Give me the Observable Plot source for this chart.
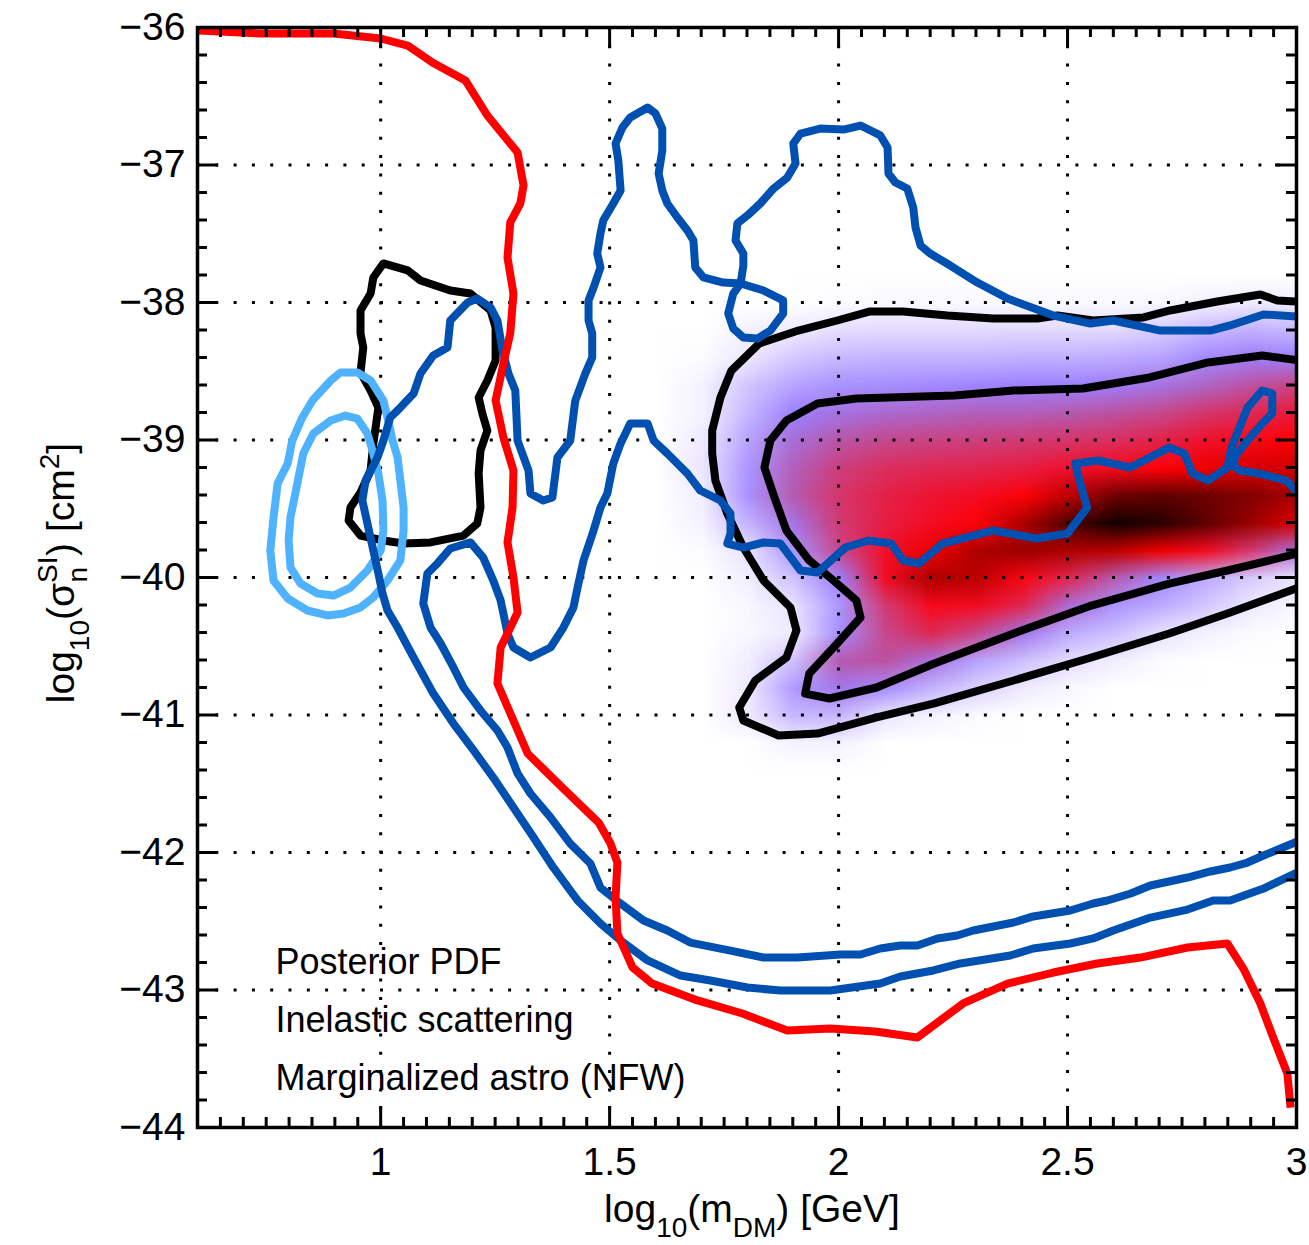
<!DOCTYPE html>
<html>
<head>
<meta charset="utf-8">
<script src="https://cdn.jsdelivr.net/npm/d3@7"></script>
<script src="https://cdn.jsdelivr.net/npm/@observablehq/plot@0.6"></script>
<style>
  body { margin: 0; background: #ffffff; }
  #chart svg { display: block; }
</style>
</head>
<body>
<div id="chart"></div>
<script>
// ---- Axis ticks ----
const xMajor = [1, 1.5, 2, 2.5, 3];
const yMajor = [-44, -43, -42, -41, -40, -39, -38, -37, -36];
const xGridLines = [1, 1.5, 2, 2.5];
const yGridLines = [-43, -42, -41, -40, -39, -38, -37];
const xMinor = d3.range(12, 61).map(i => +(i * 0.05).toFixed(2)).filter(v => Math.abs(v * 2 - Math.round(v * 2)) > 1e-6);
const yMinor = d3.range(-220, -179).map(i => +(i * 0.2).toFixed(1)).filter(v => !Number.isInteger(v));

// ---- Annotation lines ----
const notes = ["Posterior PDF", "Inelastic scattering", "Marginalized astro (NFW)"];

// ---- Posterior PDF (relative to peak), grid of cell values ----
// columns: log10(m) = 1.6 ... 3.0 step 0.1; rows: log10(sigma) = -37.8 ... -41.4 step 0.2
const pdfCols = 15;
const pdfRows = 19;
const pdfX = [1.55, 3.05];
const pdfY = [-37.7, -41.5];
const pdfGrid = [
  0, 0, 0, 0, 0, 0, 0, 0, 0, 0, 0, 0, 0, 0, 0,
  0, 0, 0, 0, 0.01, 0.015, 0.015, 0.015, 0.015, 0.015, 0.015, 0.02, 0.035, 0.05, 0.045,
  0, 0, 0.03, 0.05, 0.08, 0.09, 0.09, 0.09, 0.09, 0.09, 0.09, 0.12, 0.17, 0.19, 0.17,
  0, 0.01, 0.06, 0.13, 0.17, 0.18, 0.18, 0.18, 0.19, 0.19, 0.2, 0.22, 0.28, 0.31, 0.3,
  0, 0.03, 0.14, 0.22, 0.26, 0.27, 0.28, 0.29, 0.3, 0.3, 0.31, 0.33, 0.36, 0.4, 0.43,
  0, 0.03, 0.17, 0.3, 0.33, 0.35, 0.36, 0.37, 0.37, 0.38, 0.4, 0.42, 0.46, 0.5, 0.55,
  0, 0.05, 0.22, 0.34, 0.39, 0.42, 0.43, 0.44, 0.45, 0.46, 0.48, 0.52, 0.57, 0.63, 0.7,
  0, 0.06, 0.25, 0.37, 0.44, 0.48, 0.5, 0.51, 0.53, 0.57, 0.62, 0.68, 0.72, 0.75, 0.76,
  0, 0.04, 0.26, 0.38, 0.46, 0.52, 0.56, 0.6, 0.68, 0.78, 0.88, 0.9, 0.88, 0.85, 0.8,
  0, 0.03, 0.18, 0.33, 0.45, 0.53, 0.6, 0.68, 0.8, 0.92, 1.0, 0.97, 0.9, 0.82, 0.74,
  0, 0.01, 0.07, 0.26, 0.42, 0.58, 0.72, 0.8, 0.82, 0.8, 0.78, 0.72, 0.6, 0.45, 0.33,
  0, 0, 0.04, 0.15, 0.3, 0.6, 0.8, 0.78, 0.65, 0.5, 0.38, 0.28, 0.2, 0.12, 0.06,
  0, 0, 0.02, 0.07, 0.25, 0.45, 0.62, 0.6, 0.5, 0.34, 0.25, 0.2, 0.13, 0.05, 0.02,
  0, 0, 0.02, 0.05, 0.27, 0.42, 0.5, 0.42, 0.32, 0.2, 0.15, 0.07, 0.03, 0.01, 0,
  0, 0, 0.04, 0.15, 0.38, 0.4, 0.33, 0.22, 0.15, 0.08, 0.04, 0.01, 0, 0, 0,
  0, 0, 0.05, 0.24, 0.32, 0.27, 0.18, 0.11, 0.05, 0.02, 0, 0, 0, 0, 0,
  0, 0, 0.05, 0.17, 0.17, 0.06, 0.03, 0.01, 0, 0, 0, 0, 0, 0, 0,
  0, 0, 0, 0.03, 0.03, 0, 0, 0, 0, 0, 0, 0, 0, 0, 0,
  0, 0, 0, 0, 0, 0, 0, 0, 0, 0, 0, 0, 0, 0, 0
];
const pdfLevels = [0, 0.05, 0.3, 0.38, 0.46, 0.57, 0.7, 0.84, 1];
const pdfColors = ["#ffffff", "#efeaff", "#9b80ff", "#b65ab0", "#d6356a", "#f0102c", "#ff0000", "#8c0000", "#120000"];

// ---- PDF credible contours (black) ----
const pdfOuter = [
  [3.004,-37.993],[2.958,-37.985],[2.921,-37.942],[2.827,-37.993],[2.724,-38.058],[2.666,-38.109],
  [2.556,-38.131],[2.478,-38.095],[2.434,-38.116],[2.338,-38.116],[2.238,-38.095],[2.141,-38.065],
  [2.069,-38.065],[1.997,-38.131],[1.912,-38.204],[1.827,-38.298],[1.766,-38.495],[1.742,-38.691],
  [1.724,-38.931],[1.724,-39.098],[1.731,-39.295],[1.757,-39.535],[1.792,-39.782],[1.836,-40.022],
  [1.895,-40.218],[1.908,-40.385],[1.886,-40.582],[1.818,-40.749],[1.783,-40.945],[1.792,-41.04],
  [1.869,-41.149],[1.954,-41.135],[2.083,-41.018],[2.209,-40.916],[2.382,-40.749],[2.552,-40.582],
  [2.722,-40.407],[2.849,-40.262],[3.004,-40.073]
];
const pdfInner = [
  [3.004,-38.42],[2.925,-38.385],[2.807,-38.436],[2.679,-38.545],[2.534,-38.625],[2.382,-38.64],
  [2.253,-38.676],[2.039,-38.698],[1.954,-38.735],[1.886,-38.858],[1.851,-39.004],[1.838,-39.2],
  [1.86,-39.418],[1.886,-39.658],[1.936,-39.876],[1.989,-40.022],[2.039,-40.167],[2.048,-40.291],
  [1.989,-40.509],[1.936,-40.698],[1.927,-40.844],[1.98,-40.88],[2.083,-40.8],[2.209,-40.625],
  [2.382,-40.407],[2.552,-40.204],[2.722,-40.044],[2.849,-39.949],[3.004,-39.825]
];
const pdfIsland = [
  [1.006,-37.716],[1.059,-37.767],[1.087,-37.84],[1.152,-37.913],[1.196,-37.935],[1.24,-38.058],
  [1.251,-38.182],[1.251,-38.422],[1.233,-38.567],[1.214,-38.691],[1.222,-38.807],[1.233,-38.931],
  [1.218,-39.076],[1.214,-39.244],[1.218,-39.491],[1.211,-39.607],[1.181,-39.695],[1.109,-39.745],
  [1.05,-39.753],[1.006,-39.731],[0.956,-39.695],[0.93,-39.585],[0.934,-39.491],[0.956,-39.382],
  [0.978,-39.222],[0.984,-39.025],[0.989,-38.909],[0.995,-38.764],[0.978,-38.64],[0.956,-38.509],
  [0.962,-38.327],[0.956,-38.225],[0.956,-38.058],[0.978,-37.935],[0.984,-37.818]
];

// ---- Light-blue closed contours ----
const lightOuter = [
  [0.912,-38.509],[0.949,-38.509],[0.978,-38.567],[1.006,-38.713],[1.015,-38.836],[1.026,-39.004],
  [1.037,-39.127],[1.043,-39.295],[1.05,-39.491],[1.05,-39.658],[1.043,-39.876],[1.015,-40.022],
  [0.984,-40.145],[0.956,-40.218],[0.919,-40.262],[0.884,-40.276],[0.84,-40.24],[0.797,-40.153],
  [0.766,-40.022],[0.759,-39.804],[0.766,-39.564],[0.775,-39.316],[0.797,-39.171],[0.807,-39.004],
  [0.829,-38.836],[0.851,-38.713],[0.891,-38.567]
];
const lightInner = [
  [0.923,-38.822],[0.949,-38.844],[0.971,-38.953],[0.984,-39.098],[0.995,-39.244],[1.004,-39.44],
  [1.006,-39.658],[1.0,-39.804],[0.971,-39.949],[0.934,-40.073],[0.897,-40.131],[0.862,-40.116],
  [0.825,-40.044],[0.803,-39.927],[0.799,-39.731],[0.803,-39.564],[0.818,-39.316],[0.831,-39.098],
  [0.853,-38.953],[0.891,-38.858]
];

// ---- Dark-blue contours ----
const blueOuter = [
  [3.002,-38.102],[2.928,-38.087],[2.855,-38.167],[2.812,-38.204],[2.703,-38.204],[2.6,-38.131],
  [2.55,-38.153],[2.469,-38.095],[2.369,-37.971],[2.303,-37.855],[2.244,-37.731],[2.2,-37.644],
  [2.179,-37.585],[2.168,-37.455],[2.163,-37.309],[2.15,-37.171],[2.124,-37.127],[2.109,-37.062],
  [2.107,-36.873],[2.091,-36.785],[2.048,-36.713],[2.011,-36.742],[1.96,-36.735],[1.917,-36.771],
  [1.901,-36.844],[1.906,-36.989],[1.888,-37.091],[1.858,-37.171],[1.829,-37.28],[1.801,-37.367],
  [1.779,-37.425],[1.775,-37.549],[1.792,-37.644],[1.792,-37.731],[1.786,-37.862],[1.77,-37.935],
  [1.759,-38.08],[1.77,-38.189],[1.792,-38.255],[1.823,-38.262],[1.851,-38.204],[1.879,-38.08],
  [1.879,-37.985],[1.836,-37.913],[1.786,-37.862],[1.748,-37.855],[1.705,-37.818],[1.687,-37.745],
  [1.683,-37.549],[1.67,-37.476],[1.648,-37.382],[1.626,-37.28],[1.615,-37.185],[1.607,-37.062],
  [1.615,-36.895],[1.615,-36.735],[1.6,-36.625],[1.583,-36.582],[1.545,-36.655],[1.528,-36.727],
  [1.513,-36.844],[1.519,-36.967],[1.524,-37.185],[1.508,-37.28],[1.486,-37.404],[1.48,-37.498],
  [1.473,-37.644],[1.48,-37.745],[1.465,-37.891],[1.454,-37.985],[1.454,-38.131],[1.462,-38.225],
  [1.462,-38.4],[1.447,-38.516],[1.425,-38.713],[1.414,-39.004],[1.386,-39.127],[1.375,-39.418],
  [1.355,-39.44],[1.327,-39.389],[1.323,-39.222],[1.299,-39.004],[1.294,-38.64],[1.279,-38.516],
  [1.266,-38.349],[1.255,-38.131],[1.24,-38.036],[1.211,-37.971],[1.19,-38.0],[1.152,-38.131],
  [1.146,-38.327],[1.115,-38.385],[1.087,-38.516],[1.072,-38.662],[1.043,-38.764],[1.021,-38.836],
  [1.006,-39.004],[0.993,-39.127],[0.967,-39.295],[0.96,-39.44],[0.971,-39.607],[0.984,-39.804],
  [0.995,-39.971],[1.004,-40.116],[1.015,-40.24],[1.037,-40.364],[1.072,-40.582],[1.115,-40.844],
  [1.159,-41.062],[1.203,-41.258],[1.246,-41.455],[1.29,-41.673],[1.334,-41.891],[1.377,-42.109],
  [1.43,-42.349],[1.48,-42.516],[1.524,-42.64],[1.583,-42.785],[1.655,-42.895],[1.72,-42.931],
  [1.801,-42.982],[1.873,-43.004],[1.982,-43.004],[2.091,-42.953],[2.135,-42.902],[2.207,-42.858],
  [2.266,-42.807],[2.375,-42.749],[2.425,-42.698],[2.506,-42.662],[2.556,-42.625],[2.6,-42.567],
  [2.681,-42.473],[2.762,-42.415],[2.818,-42.349],[2.855,-42.349],[2.928,-42.262],[3.002,-42.145]
];
const blueInner = [
  [3.002,-41.92],[2.928,-42.022],[2.893,-42.073],[2.855,-42.109],[2.812,-42.138],[2.762,-42.182],
  [2.681,-42.24],[2.638,-42.298],[2.587,-42.349],[2.556,-42.371],[2.506,-42.422],[2.425,-42.465],
  [2.382,-42.509],[2.294,-42.567],[2.259,-42.604],[2.216,-42.625],[2.172,-42.676],[2.135,-42.676],
  [2.091,-42.698],[2.048,-42.742],[2.004,-42.742],[1.91,-42.764],[1.836,-42.764],[1.764,-42.713],
  [1.676,-42.655],[1.626,-42.567],[1.574,-42.495],[1.524,-42.371],[1.48,-42.255],[1.458,-42.08],
  [1.414,-41.935],[1.371,-41.745],[1.327,-41.571],[1.299,-41.425],[1.277,-41.236],[1.255,-41.113],
  [1.218,-40.967],[1.181,-40.8],[1.159,-40.655],[1.131,-40.48],[1.109,-40.364],[1.093,-40.189],
  [1.102,-39.971],[1.124,-39.898],[1.152,-39.789],[1.196,-39.745],[1.224,-39.855],[1.246,-40.022],
  [1.262,-40.167],[1.268,-40.262],[1.277,-40.407],[1.29,-40.509],[1.327,-40.582],[1.371,-40.509],
  [1.399,-40.364],[1.421,-40.218],[1.43,-40.073],[1.443,-39.876],[1.465,-39.658],[1.48,-39.491],
  [1.495,-39.389],[1.508,-39.171],[1.524,-39.025],[1.545,-38.88],[1.583,-38.88],[1.596,-39.004],
  [1.626,-39.098],[1.67,-39.244],[1.698,-39.367],[1.742,-39.44],[1.764,-39.535],[1.764,-39.68],
  [1.757,-39.753],[1.792,-39.782],[1.836,-39.745],[1.873,-39.753],[1.917,-39.949],[1.954,-39.964],
  [2.015,-39.782],[2.065,-39.731],[2.115,-39.753],[2.141,-39.876],[2.176,-39.898],[2.227,-39.753],
  [2.338,-39.658],[2.432,-39.716],[2.5,-39.68],[2.543,-39.491],[2.526,-39.295],[2.517,-39.171],
  [2.567,-39.149],[2.637,-39.2],[2.722,-39.055],[2.755,-39.098],[2.773,-39.244],[2.807,-39.295],
  [2.849,-39.2],[2.858,-39.055],[2.893,-38.764],[2.925,-38.64],[2.947,-38.662],[2.947,-38.807],
  [2.925,-38.88],[2.893,-39.004],[2.867,-39.113],[2.862,-39.185],[2.875,-39.222],[2.919,-39.244],
  [2.978,-39.295],[3.004,-39.389]
];

// ---- Red exclusion limit ----
const redLimit = [
  [0.602,-36.022],[0.738,-36.044],[0.897,-36.044],[1.0,-36.08],[1.059,-36.131],[1.113,-36.255],
  [1.185,-36.385],[1.233,-36.64],[1.299,-36.909],[1.312,-37.149],[1.305,-37.28],[1.283,-37.418],
  [1.277,-37.673],[1.29,-37.935],[1.283,-38.225],[1.268,-38.444],[1.251,-38.713],[1.268,-38.982],
  [1.29,-39.222],[1.288,-39.491],[1.277,-39.745],[1.29,-40.0],[1.299,-40.255],[1.277,-40.407],
  [1.262,-40.509],[1.255,-40.771],[1.321,-41.28],[1.399,-41.535],[1.476,-41.782],[1.502,-41.935],
  [1.517,-42.073],[1.513,-42.327],[1.517,-42.589],[1.55,-42.836],[1.593,-42.953],[1.692,-43.076],
  [1.79,-43.171],[1.888,-43.295],[1.982,-43.28],[2.08,-43.302],[2.172,-43.345],[2.272,-43.098],
  [2.369,-42.953],[2.469,-42.873],[2.565,-42.807],[2.659,-42.764],[2.762,-42.691],[2.849,-42.662],
  [2.884,-42.844],[2.921,-43.098],[2.949,-43.345],[2.98,-43.607],[2.987,-43.855]
];

// ---- Layout ----
const W = 1309, H = 1245;
const mL = 197, mR = 13, mT = 27, mB = 118;
const frameW = W - mL - mR, frameH = H - mT - mB;
const majorLen = 21, minorLen = 10;
const FONT = "'Liberation Sans', Arial, Helvetica, sans-serif";

const lineOpts = (stroke, extra = {}) => ({
  x: d => d[0], y: d => d[1], stroke, strokeWidth: 8,
  strokeLinejoin: "round", strokeLinecap: "butt", clip: true, ...extra
});

const chart = Plot.plot({
  width: W, height: H,
  marginLeft: mL, marginRight: mR, marginTop: mT, marginBottom: mB,
  style: { fontFamily: FONT, background: "#ffffff", color: "#000000" },
  x: { domain: [0.6, 3] },
  y: { domain: [-44, -36] },
  color: { type: "linear", domain: pdfLevels, range: pdfColors, clamp: true },
  marks: [
    Plot.raster(pdfGrid, {
      width: pdfCols, height: pdfRows,
      x1: pdfX[0], x2: pdfX[1], y1: pdfY[0], y2: pdfY[1],
      fill: d => d, imageRendering: "auto", clip: true
    }),
    Plot.gridX(xGridLines, { stroke: "#000", strokeOpacity: 1, strokeWidth: 3, strokeDasharray: "3,15.3" }),
    Plot.gridY(yGridLines, { stroke: "#000", strokeOpacity: 1, strokeWidth: 3, strokeDasharray: "3,15.3" }),
    Plot.line(pdfOuter, lineOpts("#000000")),
    Plot.line(pdfInner, lineOpts("#000000")),
    Plot.line(pdfIsland, lineOpts("#000000", { curve: "linear-closed" })),
    Plot.line(lightOuter, lineOpts("#4fb2ff", { curve: "linear-closed" })),
    Plot.line(lightInner, lineOpts("#4fb2ff", { curve: "linear-closed" })),
    Plot.line(blueOuter, lineOpts("#0050b2")),
    Plot.line(blueInner, lineOpts("#0050b2")),
    Plot.line(redLimit, lineOpts("#ff0000")),
    Plot.text([notes.join("\n")], {
      text: d => d, frameAnchor: "bottom-left", textAnchor: "start", lineAnchor: "bottom",
      dx: 78, dy: -38, lineHeight: 1.6, fontSize: 36, fill: "#000"
    }),
    // inward ticks on all four sides
    Plot.tickX(xMajor, { x: d => d, insetTop: frameH - majorLen, strokeWidth: 3 }),
    Plot.tickX(xMajor, { x: d => d, insetBottom: frameH - majorLen, strokeWidth: 3 }),
    Plot.tickX(xMinor, { x: d => d, insetTop: frameH - minorLen, strokeWidth: 3 }),
    Plot.tickX(xMinor, { x: d => d, insetBottom: frameH - minorLen, strokeWidth: 3 }),
    Plot.tickY(yMajor, { y: d => d, insetRight: frameW - majorLen, strokeWidth: 3 }),
    Plot.tickY(yMajor, { y: d => d, insetLeft: frameW - majorLen, strokeWidth: 3 }),
    Plot.tickY(yMinor, { y: d => d, insetRight: frameW - minorLen, strokeWidth: 3 }),
    Plot.tickY(yMinor, { y: d => d, insetLeft: frameW - minorLen, strokeWidth: 3 }),
    Plot.frame({ stroke: "#000", strokeWidth: 3.5 }),
    Plot.axisX(xMajor, { tickSize: 0, tickPadding: 20, tickFormat: d3.format("~g"), fontSize: 39, label: null }),
    Plot.axisY(yMajor, { tickSize: 0, tickPadding: 12, tickFormat: d3.format("d"), fontSize: 39, label: null })
  ]
});

// Axis titles with sub/superscripts
const svg = d3.select(chart);
const xt = svg.append("text")
  .attr("x", 752).attr("y", 1222)
  .attr("text-anchor", "middle")
  .attr("font-family", FONT).attr("font-size", 39).attr("fill", "#000");
xt.append("tspan").text("log");
xt.append("tspan").attr("dy", 15).attr("font-size", 28).text("10");
xt.append("tspan").attr("dy", -15).text("(m");
xt.append("tspan").attr("dy", 15).attr("font-size", 28).text("DM");
xt.append("tspan").attr("dy", -15).text(") [GeV]");

const yt = svg.append("text")
  .attr("transform", "translate(74,573) rotate(-90)")
  .attr("text-anchor", "middle")
  .attr("font-family", FONT).attr("font-size", 39).attr("fill", "#000");
yt.append("tspan").text("log");
yt.append("tspan").attr("dy", 15).attr("font-size", 28).text("10");
yt.append("tspan").attr("dy", -15).text("(σ");
yt.append("tspan").attr("dy", -17).attr("font-size", 28).text("SI");
yt.append("tspan").attr("dx", -26).attr("dy", 30).attr("font-size", 28).text("n");
yt.append("tspan").attr("dx", 11).attr("dy", -13).text(") [cm");
yt.append("tspan").attr("dy", -15).attr("font-size", 28).text("2");
yt.append("tspan").attr("dy", 15).text("]");

document.getElementById("chart").appendChild(chart);
</script>
</body>
</html>
